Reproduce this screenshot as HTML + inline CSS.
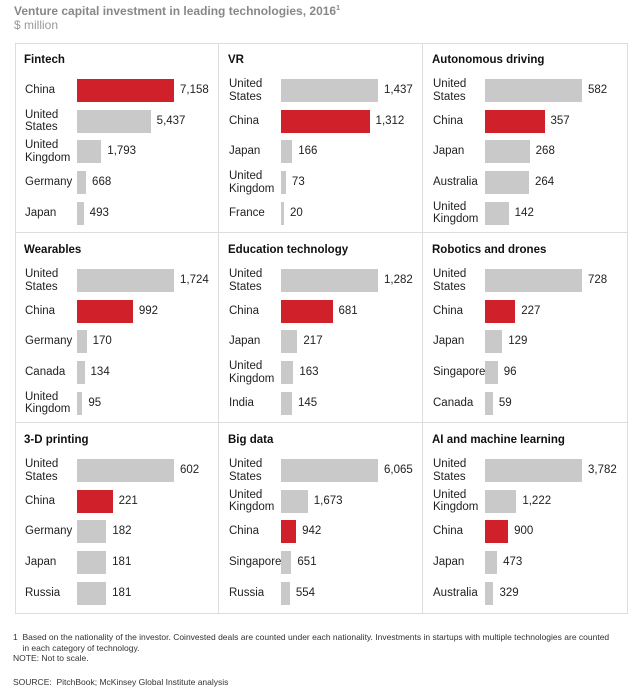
<!DOCTYPE html>
<html><head><meta charset="utf-8"><style>
body{margin:0;width:640px;height:690px;background:#fff;font-family:"Liberation Sans",sans-serif;position:relative;overflow:hidden}
.t{position:absolute;white-space:nowrap}
</style></head><body>
<div class="t" style="left:14px;top:4px;font-size:12px;font-weight:bold;color:#888">Venture capital investment in leading technologies, 2016<sup style="font-size:7px">1</sup></div>
<div class="t" style="left:14px;top:18px;font-size:12px;color:#999">$ million</div>
<div id="grid" style="position:absolute;left:15px;top:43px;width:613px;height:571px;border:1px solid #ddd;box-sizing:border-box"></div>
<div class="t" style="left:13px;top:632px;font-size:8.5px;color:#333;line-height:10.5px">1&nbsp; Based on the nationality of the investor. Coinvested deals are counted under each nationality. Investments in startups with multiple technologies are counted<br>&nbsp;&nbsp;&nbsp; in each category of technology.<br>NOTE: Not to scale.</div>
<div class="t" style="left:13px;top:677px;font-size:8.5px;color:#333">SOURCE:&nbsp; PitchBook; McKinsey Global Institute analysis</div>
<script>
const titles=["Fintech","VR","Autonomous driving","Wearables","Education technology","Robotics and drones","3-D printing","Big data","AI and machine learning"];
const countries=[
["China","United States","United Kingdom","Germany","Japan"],
["United States","China","Japan","United Kingdom","France"],
["United States","China","Japan","Australia","United Kingdom"],
["United States","China","Germany","Canada","United Kingdom"],
["United States","China","Japan","United Kingdom","India"],
["United States","China","Japan","Singapore","Canada"],
["United States","China","Germany","Japan","Russia"],
["United States","United Kingdom","China","Singapore","Russia"],
["United States","United Kingdom","China","Japan","Australia"]];
const values=[
[7158,5437,1793,668,493],
[1437,1312,166,73,20],
[582,357,268,264,142],
[1724,992,170,134,95],
[1282,681,217,163,145],
[728,227,129,96,59],
[602,221,182,181,181],
[6065,1673,942,651,554],
[3782,1222,900,473,329]];
const colX=[15,219,423],rowY=[43,233,423],W=[204,204,205],H=190;
const fmt=v=>v.toLocaleString('en-US');
titles.forEach((title,p)=>{
  const c=p%3,r=Math.floor(p/3),x0=colX[c],y0=rowY[r];
  const panel=document.createElement('div');
  
  
  panel.style.cssText=`position:absolute;left:${x0}px;top:${y0}px;width:${W[c]}px;height:${H}px;box-sizing:border-box;${c<2?'border-right:1px solid #ddd;':''}${r<2?'border-bottom:1px solid #ddd;':''}`;
  document.body.appendChild(panel);
  const tt=document.createElement('div');tt.className='t';
  
  
  tt.style.cssText='left:9px;top:11px;font-size:11.5px;font-weight:bold;color:#111';
  tt.textContent=title;panel.appendChild(tt);
  const mx=Math.max(...values[p]);
  const xs=v=>Math.max(3,v/mx*97);
  countries[p].forEach((cn,i)=>{
    const by=36+i*30.7,v=values[p][i];
    const lb=document.createElement('div');lb.className='t';
    
    
    const two=cn.indexOf(' ')>0;
    lb.style.cssText=`left:10px;top:${by+(two?-1:5)}px;font-size:11.5px;color:#222;line-height:12.5px`;
    lb.innerHTML=two?cn.replace(' ','<br>'):cn;panel.appendChild(lb);
    const b=document.createElement('div');
    
    
    const w=xs(v);
    b.style.cssText=`position:absolute;left:62px;top:${by}px;width:${w}px;height:23px;background:${cn==='China'?'#d0212b':'#c9c9c9'}`;
    panel.appendChild(b);
    const vl=document.createElement('div');vl.className='t';
    
    
    vl.style.cssText=`left:${62+w+6}px;top:${by+5}px;font-size:11.5px;color:#222`;
    vl.textContent=fmt(v);panel.appendChild(vl);
  });
});
</script>
</body></html>
